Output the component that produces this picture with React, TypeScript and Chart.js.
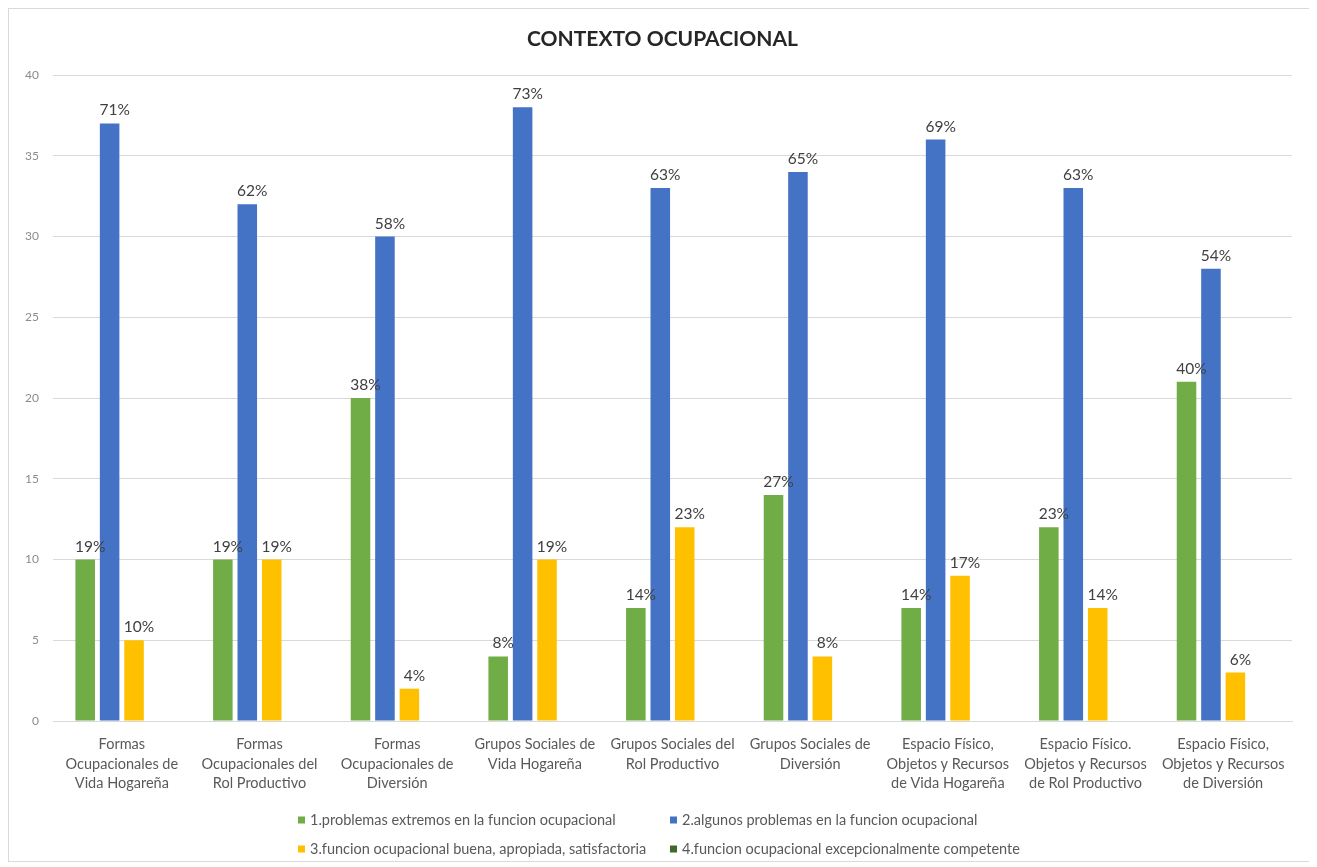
import React, { useEffect, useRef } from "react";
import { Chart, registerables } from "chart.js";

Chart.register(...registerables);

const FONT = "Lato, 'Open Sans', sans-serif";

const categories: string[][] = [
  ["Formas", "Ocupacionales de", "Vida Hogareña"],
  ["Formas", "Ocupacionales del", "Rol Productivo"],
  ["Formas", "Ocupacionales de", "Diversión"],
  ["Grupos Sociales de", "Vida Hogareña"],
  ["Grupos Sociales del", "Rol Productivo"],
  ["Grupos Sociales de", "Diversión"],
  ["Espacio Físico,", "Objetos y Recursos", "de Vida Hogareña"],
  ["Espacio Físico.", "Objetos y Recursos", "de Rol Productivo"],
  ["Espacio Físico,", "Objetos y Recursos", "de Diversión"],
];

const seriesLabels = [
  "1.problemas extremos en la funcion ocupacional",
  "2.algunos problemas en la funcion ocupacional",
  "3.funcion ocupacional buena, apropiada, satisfactoria",
  "4.funcion ocupacional excepcionalmente competente",
];

const seriesColors = ["#70AD47", "#4472C4", "#FFC000", "#43682B"];

const extremos = [10, 10, 20, 4, 7, 14, 7, 12, 21];
const algunos = [37, 32, 30, 38, 33, 34, 36, 33, 28];
const buena = [5, 10, 2, 10, 12, 4, 9, 7, 3];
const excepcional: (number | null)[] = [null, null, null, null, null, null, null, null, null];

const extremosPct = [19, 19, 38, 8, 14, 27, 14, 23, 40];
const algunosPct = [71, 62, 58, 73, 63, 65, 69, 63, 54];
const buenaPct = [10, 19, 4, 19, 23, 8, 17, 14, 6];
const excepcionalPct: (number | null)[] = [null, null, null, null, null, null, null, null, null];

const yMin = 0;
const yMax = 40;
const yStep = 5;

const chartTitle = "CONTEXTO OCUPACIONAL";

const pctSets = [extremosPct, algunosPct, buenaPct, excepcionalPct];

const decorPlugin = {
  id: "decor",
  afterDatasetsDraw(chart: any) {
    const ctx = chart.ctx as CanvasRenderingContext2D;
    ctx.save();
    ctx.font = `15.5px ${FONT}`;
    ctx.fillStyle = "#404040";
    ctx.textAlign = "center";
    ctx.textBaseline = "alphabetic";
    pctSets.forEach((pcts, di) => {
      const meta = chart.getDatasetMeta(di);
      meta.data.forEach((el: any, i: number) => {
        const p = pcts[i];
        if (p == null) return;
        ctx.fillText(p + "%", el.x + 5, el.y - 8);
      });
    });
    ctx.restore();
  },
  afterDraw(chart: any) {
    const ctx = chart.ctx as CanvasRenderingContext2D;
    ctx.save();
    // title
    ctx.font = `bold 21px ${FONT}`;
    ctx.fillStyle = "#262626";
    ctx.textAlign = "center";
    ctx.textBaseline = "middle";
    ctx.fillText(chartTitle, chart.width / 2 + 3, 30);

    // legend (two rows, two columns)
    ctx.font = `14.5px ${FONT}`;
    ctx.textBaseline = "middle";
    ctx.textAlign = "left";
    const box = 7;
    const boxGap = 5;
    const col1 = 289;
    const rowsY = [811, 840];
    const w0 = Math.max(
      ctx.measureText(seriesLabels[0]).width,
      ctx.measureText(seriesLabels[2]).width
    );
    const col2 = Math.max(661, col1 + box + boxGap + w0 + 7);
    [0, 1, 2, 3].forEach((i) => {
      const x = i % 2 === 0 ? col1 : col2;
      const y = rowsY[Math.floor(i / 2)];
      ctx.fillStyle = seriesColors[i];
      ctx.fillRect(x, y - box / 2, box, box);
      ctx.fillStyle = "#595959";
      ctx.fillText(seriesLabels[i], x + box + boxGap, y);
    });
    ctx.restore();
  },
};

export default function App() {
  const canvasRef = useRef<HTMLCanvasElement | null>(null);

  useEffect(() => {
    if (!canvasRef.current) return;
    const dataSets = [extremos, algunos, buena, excepcional];
    const chart = new Chart(canvasRef.current, {
      type: "bar",
      data: {
        labels: categories,
        datasets: dataSets.map((d, i) => ({
          label: seriesLabels[i],
          data: d,
          backgroundColor: seriesColors[i],
          borderWidth: 0,
          categoryPercentage: 0.71,
          barPercentage: 0.8,
        })),
      },
      options: {
        animation: false,
        responsive: true,
        maintainAspectRatio: false,
        layout: { padding: { top: 66, right: 18, bottom: 0, left: 0 } },
        plugins: {
          legend: { display: false },
          title: { display: false },
          tooltip: { enabled: false },
        },
        scales: {
          x: {
            grid: { display: false, drawTicks: false },
            border: { display: true, color: "#d9d9d9", width: 1 },
            ticks: {
              color: "#595959",
              font: { family: FONT, size: 14.5, lineHeight: "19.5px" } as any,
              padding: 14,
              maxRotation: 0,
              autoSkip: false,
            },
            afterFit(scale: any) {
              scale.height = 140;
            },
          },
          y: {
            min: yMin,
            max: yMax,
            grid: { color: "#d9d9d9", drawTicks: false },
            border: { display: false },
            ticks: {
              stepSize: yStep,
              color: "#8c8c8c",
              font: { family: FONT, size: 12 },
              padding: 14,
            },
            afterFit(scale: any) {
              scale.width = 44;
            },
          },
        },
      },
      plugins: [decorPlugin],
    });
    return () => chart.destroy();
  }, []);

  return (
    <div
      style={{
        width: 1303,
        height: 854,
        boxSizing: "border-box",
        border: "1px solid #d9d9d9",
        background: "#fff",
      }}
    >
      <div style={{ position: "relative", width: 1301, height: 852 }}>
        <canvas ref={canvasRef} />
      </div>
    </div>
  );
}
